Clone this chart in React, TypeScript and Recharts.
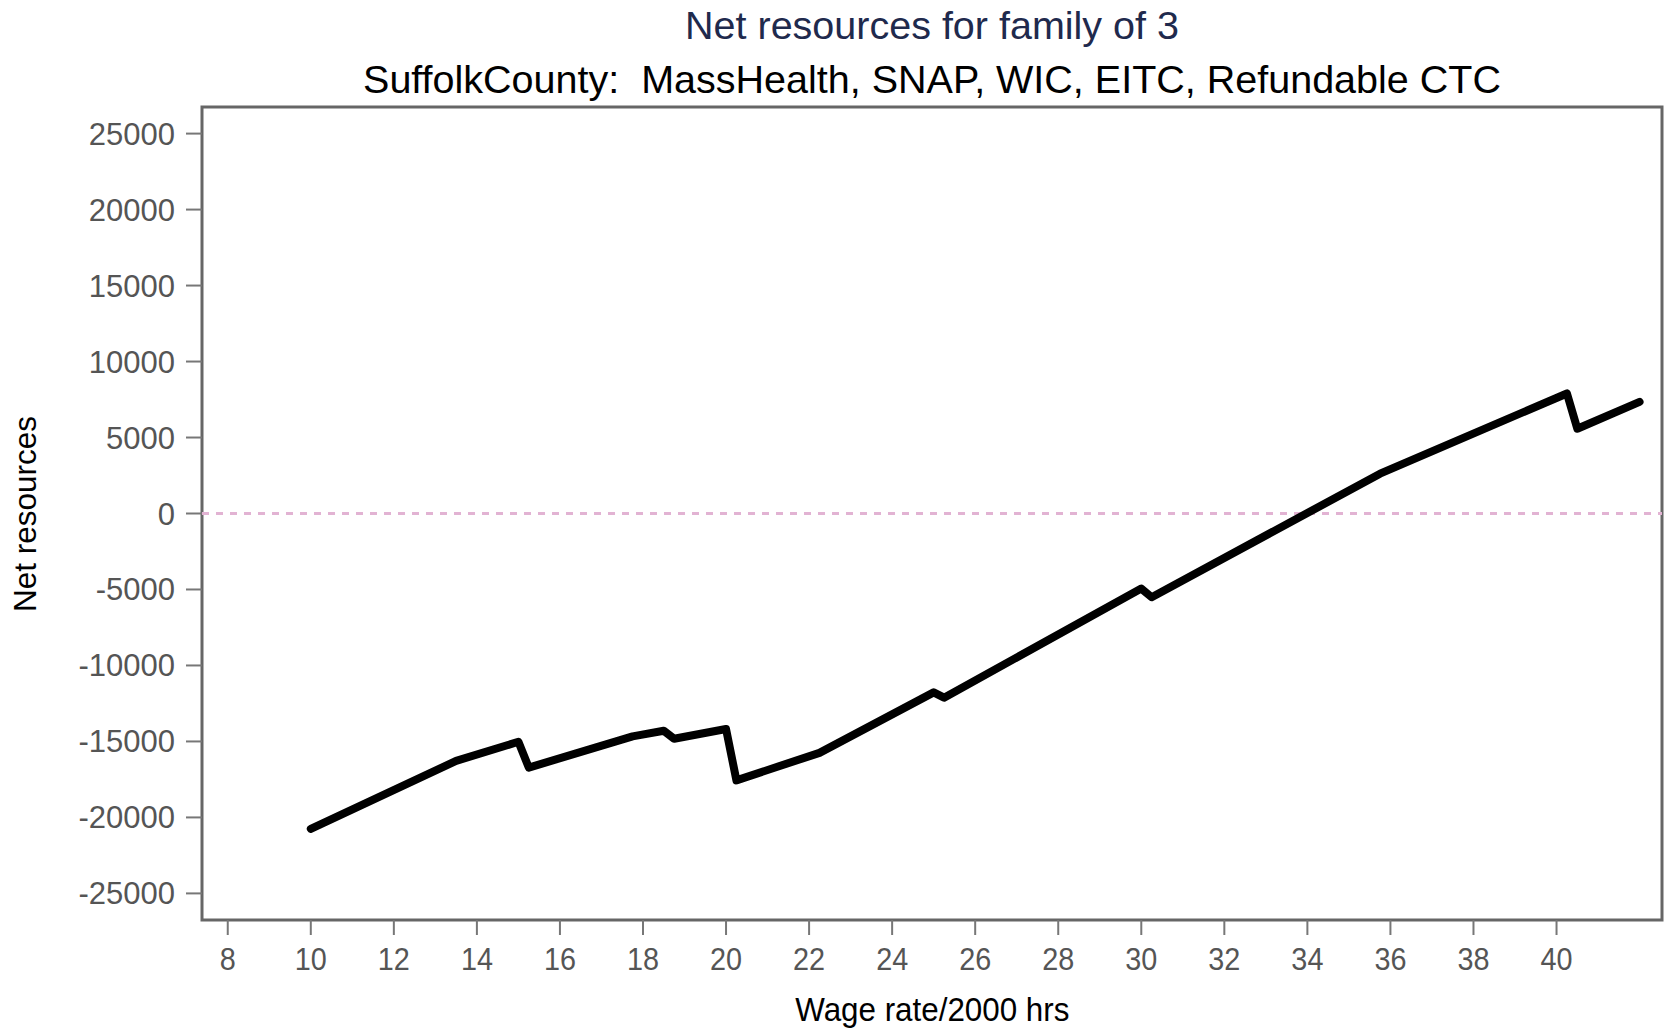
import React from 'react';
import {
  LineChart,
  Line,
  XAxis,
  YAxis,
  ReferenceLine,
  ReferenceArea,
} from 'recharts';

// wage rate (x) and net resources (y)
const wageRates = [10, 13.5, 15, 15.25, 17.75, 18.5, 18.75, 20, 20.25, 22.25, 25, 25.25, 30, 30.25, 35.75, 40.25, 40.5, 42];
const netResources = [
  -20750, -16280, -15020, -16720, -14670, -14300, -14820, -14180, -17560,
  -15750, -11770, -12120, -4940, -5510, 2620, 7900, 5580, 7350,
];

const xTicks = [8, 10, 12, 14, 16, 18, 20, 22, 24, 26, 28, 30, 32, 34, 36, 38, 40];
const yTicks = [-25000, -20000, -15000, -10000, -5000, 0, 5000, 10000, 15000, 20000, 25000];

const X_DOMAIN: [number, number] = [7.38, 42.54];
const Y_DOMAIN: [number, number] = [-26750, 26750];

const FONT = '"Liberation Sans", Arial, Helvetica, sans-serif';
const TICK_COLOR = '#555';

const chartData = wageRates.map((w, i) => ({ wage: w, net: netResources[i] }));

const XTick = (props: any) => {
  const { x, y, payload } = props;
  return (
    <g transform={`translate(${x},${y})`}>
      <text
        x={0}
        y={0}
        dy="0.71em"
        textAnchor="middle"
        fill={TICK_COLOR}
        fontSize={32}
        fontFamily={FONT}
        transform="scale(0.9,1)"
      >
        {payload.value}
      </text>
    </g>
  );
};

export default function App() {
  return (
    <div
      style={{
        position: 'absolute',
        left: 0,
        top: 0,
        width: 1664,
        height: 1029,
        background: '#fff',
        fontFamily: FONT,
      }}
    >
      <div
        style={{
          position: 'absolute',
          left: 202,
          top: 6,
          width: 1460,
          textAlign: 'center',
          fontSize: 39.5,
          lineHeight: '39.5px',
          color: '#1f2a4d',
          whiteSpace: 'nowrap',
        }}
      >
        Net resources for family of 3
      </div>
      <div
        style={{
          position: 'absolute',
          left: 202,
          top: 60,
          width: 1460,
          textAlign: 'center',
          fontSize: 39.5,
          lineHeight: '39.5px',
          color: '#000',
          whiteSpace: 'pre',
        }}
      >
        {'SuffolkCounty:  MassHealth, SNAP, WIC, EITC, Refundable CTC'}
      </div>

      <LineChart
        width={1664}
        height={1029}
        data={chartData}
        margin={{ top: 107, right: 2, bottom: 0, left: 82 }}
      >
        <XAxis
          dataKey="wage"
          type="number"
          domain={X_DOMAIN}
          ticks={xTicks}
          allowDataOverflow
          height={109}
          axisLine={false}
          tickSize={15}
          tickMargin={12}
          tickLine={{ stroke: '#777', strokeWidth: 2 }}
          tick={XTick}
          interval={0}
        />
        <YAxis
          type="number"
          domain={Y_DOMAIN}
          ticks={yTicks}
          allowDataOverflow
          width={120}
          axisLine={false}
          tickSize={16}
          tickMargin={11}
          tickLine={{ stroke: '#777', strokeWidth: 2 }}
          tick={{ fill: TICK_COLOR, fontSize: 31, fontFamily: FONT }}
          interval={0}
        />
        <ReferenceArea
          x1={X_DOMAIN[0]}
          x2={X_DOMAIN[1]}
          y1={Y_DOMAIN[0]}
          y2={Y_DOMAIN[1]}
          fill="none"
          stroke="#666"
          strokeWidth={3}
          ifOverflow="visible"
        />
        <ReferenceLine
          y={0}
          stroke="#e2b3d3"
          strokeWidth={3}
          strokeDasharray="7 7"
        />
        <Line
          type="linear"
          dataKey="net"
          stroke="#000"
          strokeWidth={8}
          strokeLinejoin="round"
          strokeLinecap="round"
          dot={false}
          activeDot={false}
          isAnimationActive={false}
        />
      </LineChart>

      <div
        style={{
          position: 'absolute',
          left: 202,
          top: 993,
          width: 1460,
          textAlign: 'center',
          fontSize: 33,
          lineHeight: '33px',
          color: '#000',
          whiteSpace: 'nowrap',
        }}
      >
        <span style={{ display: 'inline-block', transform: 'scaleX(0.95)' }}>Wage rate/2000 hrs</span>
      </div>
      <div
        style={{
          position: 'absolute',
          left: 26,
          top: 514,
          fontSize: 31.5,
          lineHeight: '31.5px',
          color: '#000',
          whiteSpace: 'nowrap',
          transform: 'translate(-50%, -50%) rotate(-90deg)',
        }}
      >
        Net resources
      </div>
    </div>
  );
}
